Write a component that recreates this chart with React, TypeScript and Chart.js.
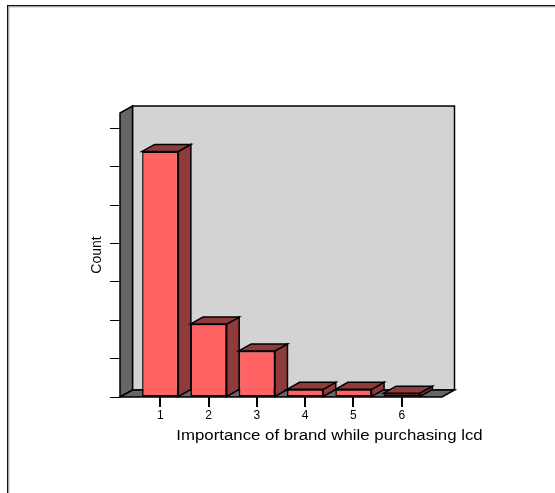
import React, { useEffect, useRef } from "react";
import { Chart, registerables } from "chart.js";

Chart.register(...registerables);

// Response categories and their frequencies
const CATEGORIES = ["1", "2", "3", "4", "5", "6"];
const COUNTS = [64, 19, 12, 2, 2, 1];
const Y_TICKS = [0, 10, 20, 30, 40, 50, 60, 70];
const Y_MAX = 74;
const X_TITLE = "Importance of brand while purchasing lcd";
const Y_TITLE = "Count";

// 3D depth offset of the box and bars
const DX = 12.5;
const DY = 7;
const TICK_LEN = 10;

const FRONT = "#ff6363";
const SHADE = "#8f3b3b";
const BACK_WALL = "#d3d3d3";
const SIDE_WALL = "#666666";
const FONT = "'Liberation Sans', Arial, sans-serif";

type Pt = [number, number];

function poly(ctx: CanvasRenderingContext2D, pts: Pt[], fill: string, lw = 1.5) {
  ctx.beginPath();
  ctx.moveTo(pts[0][0], pts[0][1]);
  for (let i = 1; i < pts.length; i++) ctx.lineTo(pts[i][0], pts[i][1]);
  ctx.closePath();
  ctx.fillStyle = fill;
  ctx.fill();
  ctx.lineWidth = lw;
  ctx.strokeStyle = "#000";
  ctx.stroke();
}

const depthPlugin = {
  id: "depth3d",
  beforeDraw(chart: any) {
    const { ctx, chartArea: a, width, height } = chart;
    ctx.save();
    ctx.fillStyle = "#fff";
    ctx.fillRect(0, 0, width, height);
    // outer frame
    ctx.fillStyle = "#111";
    ctx.fillRect(7, 5, width, 1.3);
    ctx.fillRect(7, 5, 1.3, height);
    ctx.fillStyle = "#9a9a9a";
    ctx.fillRect(8.3, 6.3, width, 1);
    ctx.fillRect(8.3, 6.3, 1, height);
    ctx.lineJoin = "miter";
    // back wall
    poly(ctx, [
      [a.left + DX, a.top - DY],
      [a.right + DX, a.top - DY],
      [a.right + DX, a.bottom - DY],
      [a.left + DX, a.bottom - DY],
    ], BACK_WALL);
    // left wall
    poly(ctx, [
      [a.left, a.top],
      [a.left + DX, a.top - DY],
      [a.left + DX, a.bottom - DY],
      [a.left, a.bottom],
    ], SIDE_WALL);
    // floor
    poly(ctx, [
      [a.left, a.bottom],
      [a.left + DX, a.bottom - DY],
      [a.right + DX, a.bottom - DY],
      [a.right, a.bottom],
    ], SIDE_WALL);
    ctx.restore();
  },
  beforeDatasetsDraw(chart: any) {
    const { ctx } = chart;
    const meta = chart.getDatasetMeta(0);
    ctx.save();
    ctx.lineJoin = "miter";
    meta.data.forEach((bar: any) => {
      const { x, y, base, width } = bar.getProps(["x", "y", "base", "width"], true);
      const l = x - width / 2;
      const r = x + width / 2;
      // right side face
      poly(ctx, [[r, y], [r + DX, y - DY], [r + DX, base - DY], [r, base]], SHADE);
      // top face
      poly(ctx, [[l, y], [l + DX, y - DY], [r + DX, y - DY], [r, y]], SHADE);
    });
    ctx.restore();
  },
  afterDraw(chart: any) {
    const { ctx, chartArea: a } = chart;
    const xScale = chart.scales.x;
    ctx.save();
    // category tick marks under the front edge of the floor
    ctx.fillStyle = "#000";
    xScale.ticks.forEach((t: any) => {
      const px = Math.round(xScale.getPixelForValue(t.value));
      ctx.fillRect(px - 1, Math.round(a.bottom), 2, TICK_LEN);
    });
    // horizontal axis title
    ctx.font = `14px ${FONT}`;
    ctx.textAlign = "center";
    ctx.textBaseline = "alphabetic";
    ctx.translate((a.left + a.right) / 2 + 48.5, a.bottom + 42.5);
    ctx.scale(1.2, 1);
    ctx.fillText(X_TITLE, 0, 0);
    ctx.restore();
  },
};

export default function App() {
  const ref = useRef<HTMLCanvasElement>(null);

  useEffect(() => {
    const chart = new Chart(ref.current as HTMLCanvasElement, {
      type: "bar",
      data: {
        datasets: [
          {
            data: COUNTS.map((c, i) => ({ x: i + 1, y: c })),
            backgroundColor: FRONT,
            borderColor: "#000",
            borderWidth: 1.5,
            borderSkipped: false,
            categoryPercentage: 0.75,
            barPercentage: 1,
          } as any,
        ],
      },
      options: {
        responsive: false,
        animation: false,
        events: [],
        layout: { padding: { left: 0, top: 113, right: 113, bottom: 0 } },
        plugins: { legend: { display: false }, tooltip: { enabled: false } },
        scales: {
          x: {
            type: "linear",
            offset: false,
            min: 0.5 - 1 / 3,
            max: CATEGORIES.length + 0.5 + 1 / 3,
            afterBuildTicks: (s: any) => {
              s.ticks = CATEGORIES.map((_, i) => ({ value: i + 1 }));
            },
            afterFit: (s: any) => {
              s.height = 96;
            },
            grid: { offset: false, drawOnChartArea: false, drawTicks: true, tickLength: TICK_LEN, color: "#000", lineWidth: 1 },
            border: { display: false },
            ticks: {
              callback: (v: any) => CATEGORIES[Number(v) - 1] ?? "",
              color: "#000",
              font: { family: FONT, size: 12 },
              padding: 1,
              maxRotation: 0,
              autoSkip: false,
            },
          },
          y: {
            min: 0,
            max: Y_MAX,
            afterBuildTicks: (s: any) => {
              s.ticks = Y_TICKS.map((v) => ({ value: v }));
            },
            afterFit: (s: any) => {
              s.width = 120;
            },
            grid: { drawOnChartArea: false, drawTicks: true, tickLength: TICK_LEN, color: "#000", lineWidth: 1 },
            border: { display: false },
            ticks: { display: false },
            title: {
              display: true,
              text: Y_TITLE,
              color: "#000",
              font: { family: FONT, size: 14 },
              padding: { top: 88.6, bottom: 0 },
            },
          },
        },
      } as any,
      plugins: [depthPlugin],
    });
    return () => chart.destroy();
  }, []);

  return (
    <div style={{ position: "fixed", left: 0, top: 0, width: 555, height: 493, background: "#fff" }}>
      <canvas ref={ref} width={555} height={493} style={{ display: "block", width: 555, height: 493 }} />
    </div>
  );
}
